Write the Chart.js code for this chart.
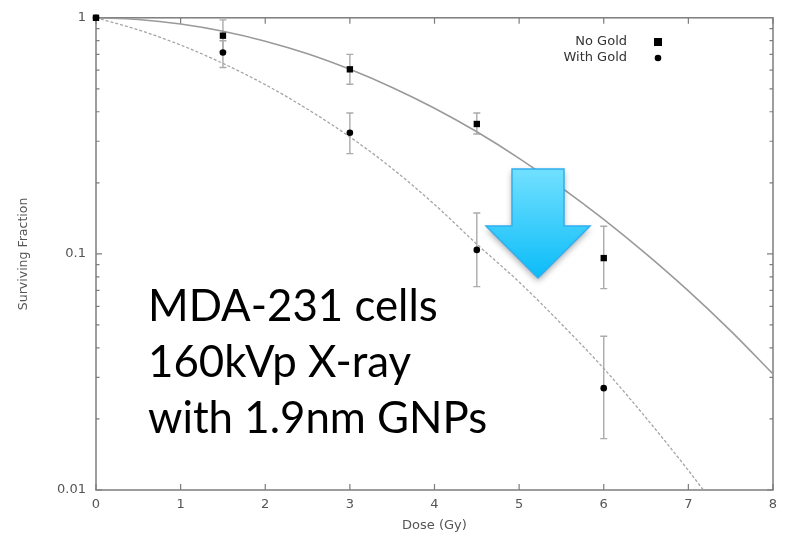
<!DOCTYPE html>
<html>
<head>
<meta charset="utf-8">
<script src="https://cdn.jsdelivr.net/npm/chart.js@4.4.1/dist/chart.umd.min.js"></script>
<style>
    html, body { margin: 0; padding: 0; background: #fff; }
    #wrap { width: 787px; height: 537px; }
</style>
</head>
<body>
<div id="wrap"><canvas id="survivalChart" width="787" height="537"></canvas></div>
<script>
// Measured surviving fractions (mean with error range)
const doses = [0, 1.5, 3, 4.5, 6];
const noGold = [1, 0.84, 0.605, 0.355, 0.096];
const noGoldLow = [null, 0.72, 0.523, 0.322, 0.0713];
const noGoldHigh = [null, 0.98, 0.70, 0.395, 0.131];
const withGold = [1, 0.713, 0.326, 0.104, 0.027];
const withGoldLow = [null, 0.616, 0.266, 0.0727, 0.0165];
const withGoldHigh = [null, 0.80, 0.395, 0.149, 0.0448];

// Fitted survival curves
const fitDoses = [0, 0.5, 1, 1.5, 2, 2.5, 3, 3.5, 4, 4.5, 5, 5.5, 6, 6.5, 7, 7.5, 8];
const noGoldFit = [1, 0.983, 0.941, 0.877, 0.796, 0.704, 0.605, 0.507, 0.414, 0.329, 0.254, 0.191, 0.140, 0.100, 0.0697, 0.0472, 0.031];
const withGoldFit = [1, 0.889, 0.767, 0.641, 0.521, 0.410, 0.313, 0.230, 0.162, 0.110, 0.076, 0.0505, 0.0327, 0.0202, 0.0121, 0.0070, null];

// Axis ticks
const xTicks = [0, 1, 2, 3, 4, 5, 6, 7, 8];
const yTicks = [0.01, 0.1, 1];
const yTickLabels = ['0.01', '0.1', '1'];

const legendLabels = ['No Gold', 'With Gold'];
const noteLines = ['MDA-231 cells', '160kVp X-ray', 'with 1.9nm GNPs'];

const SMALL_FONT = 'DejaVu Sans';
const AXIS_GRAY = '#7d7d7d';

function toPoints(xs, ys) {
    return xs.map((x, i) => ({ x: x, y: ys[i] })).filter(p => p.y !== null);
}

function drawMarker(ctx, style, px, py) {
    ctx.fillStyle = '#000';
    if (style === 'rect') {
        ctx.fillRect(px - 4, py - 4, 8, 8);
    } else {
        ctx.beginPath();
        ctx.arc(px, py, 3.3, 0, Math.PI * 2);
        ctx.fill();
    }
}

function drawErrorBars(ctx, x, y, low, high) {
    doses.forEach((d, i) => {
        if (low[i] === null) return;
        const px = x.getPixelForValue(d);
        const top = y.getPixelForValue(high[i]);
        const bottom = y.getPixelForValue(low[i]);
        ctx.beginPath();
        ctx.moveTo(px, top);
        ctx.lineTo(px, bottom);
        ctx.moveTo(px - 3.5, top);
        ctx.lineTo(px + 3.5, top);
        ctx.moveTo(px - 3.5, bottom);
        ctx.lineTo(px + 3.5, bottom);
        ctx.stroke();
    });
}

// Box frame, inward ticks and error bars
const framePlugin = {
    id: 'framePlugin',
    beforeDatasetsDraw(chart) {
        const { ctx, chartArea: a, scales: { x, y } } = chart;
        ctx.save();

        ctx.strokeStyle = '#ababab';
        ctx.lineWidth = 1.4;
        drawErrorBars(ctx, x, y, noGoldLow, noGoldHigh);
        drawErrorBars(ctx, x, y, withGoldLow, withGoldHigh);

        ctx.strokeStyle = AXIS_GRAY;
        ctx.lineWidth = 1.5;
        ctx.strokeRect(a.left, a.top, a.right - a.left, a.bottom - a.top);

        ctx.lineWidth = 1.2;
        ctx.beginPath();
        xTicks.forEach(v => {
            const px = x.getPixelForValue(v);
            ctx.moveTo(px, a.bottom);
            ctx.lineTo(px, a.bottom - 6);
            ctx.moveTo(px, a.top);
            ctx.lineTo(px, a.top + 6);
        });
        // log ticks: long at each decade, short at 2..9
        [0.01, 0.1].forEach(decade => {
            for (let m = 1; m <= 9; m++) {
                const py = y.getPixelForValue(decade * m);
                const len = m === 1 ? 6 : 3.5;
                ctx.moveTo(a.left, py);
                ctx.lineTo(a.left + len, py);
                ctx.moveTo(a.right, py);
                ctx.lineTo(a.right - len, py);
            }
        });
        ctx.stroke();
        ctx.restore();
    },
    afterDraw(chart) {
        const { ctx } = chart;
        ctx.save();

        // legend
        ctx.font = '13px "' + SMALL_FONT + '"';
        ctx.fillStyle = '#333';
        ctx.textAlign = 'right';
        ctx.textBaseline = 'middle';
        ctx.fillText(legendLabels[0], 627, 42);
        ctx.fillText(legendLabels[1], 627, 58);
        drawMarker(ctx, 'rect', 658, 42);
        drawMarker(ctx, 'circle', 658, 58);

        // note text, sized so the last line spans its width
        let size = 47;
        ctx.font = size + 'px Lato';
        size = size * 339 / ctx.measureText(noteLines[2]).width;
        ctx.font = size.toFixed(1) + 'px Lato';
        ctx.fillStyle = '#000';
        ctx.textAlign = 'left';
        ctx.textBaseline = 'alphabetic';
        noteLines.forEach((line, i) => ctx.fillText(line, 148, 321 + i * 56));

        // blue down arrow
        const shape = [[512, 169], [564, 169], [564, 226], [590, 226], [538, 278], [486, 226], [512, 226]];
        ctx.beginPath();
        shape.forEach(([px, py], i) => (i ? ctx.lineTo(px, py) : ctx.moveTo(px, py)));
        ctx.closePath();
        const grad = ctx.createLinearGradient(0, 169, 0, 278);
        grad.addColorStop(0, '#72e0ff');
        grad.addColorStop(1, '#0bbcf8');
        ctx.shadowColor = 'rgba(0, 0, 0, 0.35)';
        ctx.shadowBlur = 6;
        ctx.shadowOffsetY = 3;
        ctx.fillStyle = grad;
        ctx.fill();
        ctx.shadowColor = 'transparent';
        ctx.strokeStyle = '#31aef0';
        ctx.lineWidth = 1.5;
        ctx.stroke();

        ctx.restore();
    }
};

const ctx = document.getElementById('survivalChart').getContext('2d');
const survivalChart = new Chart(ctx, {
    type: 'scatter',
    data: {
        datasets: [
            {
                label: legendLabels[0],
                data: toPoints(doses, noGold),
                pointStyle: 'rect',
                pointRadius: 4.5,
                backgroundColor: '#000',
                borderWidth: 0,
                clip: false
            },
            {
                label: legendLabels[1],
                data: toPoints(doses, withGold),
                pointStyle: 'circle',
                pointRadius: 3.3,
                backgroundColor: '#000',
                borderWidth: 0,
                clip: false
            },
            {
                label: 'No Gold fit',
                data: toPoints(fitDoses, noGoldFit),
                showLine: true,
                pointRadius: 0,
                borderColor: '#9a9a9a',
                borderWidth: 1.6,
                cubicInterpolationMode: 'monotone'
            },
            {
                label: 'With Gold fit',
                data: toPoints(fitDoses, withGoldFit),
                showLine: true,
                pointRadius: 0,
                borderColor: '#a5a5a5',
                borderWidth: 1.3,
                borderDash: [3, 2],
                cubicInterpolationMode: 'monotone'
            }
        ]
    },
    options: {
        responsive: false,
        animation: false,
        layout: { padding: { top: 13, right: 14, left: 0, bottom: 0 } },
        plugins: {
            legend: { display: false },
            tooltip: { enabled: false }
        },
        scales: {
            x: {
                type: 'linear',
                min: 0,
                max: 8,
                afterFit: s => { s.height = 47; },
                afterBuildTicks: s => { s.ticks = xTicks.map(v => ({ value: v })); },
                grid: { display: false, drawTicks: false },
                border: { display: false },
                ticks: {
                    padding: 7,
                    color: '#555',
                    font: { family: SMALL_FONT, size: 13 }
                },
                title: {
                    display: true,
                    text: 'Dose (Gy)',
                    color: '#555',
                    padding: 4,
                    font: { family: SMALL_FONT, size: 13 }
                }
            },
            y: {
                type: 'logarithmic',
                min: 0.01,
                max: 1,
                afterFit: s => { s.width = 96; },
                afterBuildTicks: s => { s.ticks = yTicks.map(v => ({ value: v })); },
                grid: { display: false, drawTicks: false },
                border: { display: false },
                ticks: {
                    padding: 10,
                    color: '#555',
                    font: { family: SMALL_FONT, size: 13 },
                    callback: (v, i) => yTickLabels[i]
                },
                title: {
                    display: true,
                    text: 'Surviving Fraction',
                    color: '#555',
                    padding: 16,
                    font: { family: SMALL_FONT, size: 12.5 }
                }
            }
        }
    },
    plugins: [framePlugin]
});
</script>
</body>
</html>
